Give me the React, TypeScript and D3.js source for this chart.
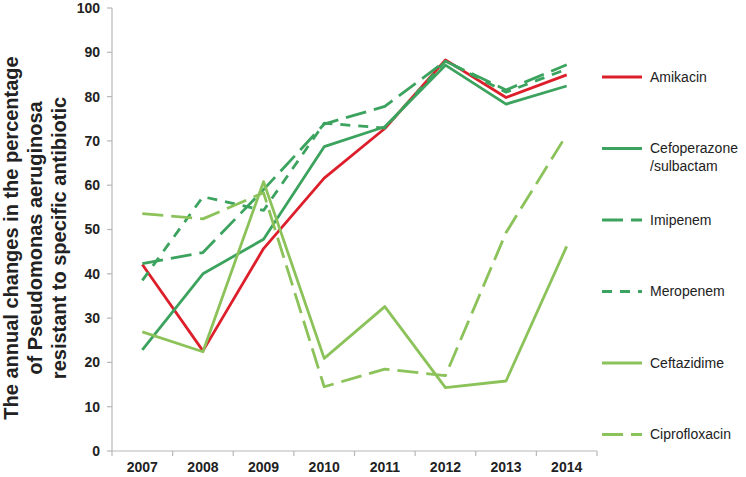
import React from "react";
import * as d3 from "d3";

const years = ["2007", "2008", "2009", "2010", "2011", "2012", "2013", "2014"];
const amikacin = [42.1, 22.6, 45.7, 61.6, 72.8, 88.3, 79.8, 84.9];
const cefoperazone = [22.8, 40.0, 47.8, 68.7, 73.2, 87.1, 78.3, 82.4];
const imipenem = [42.3, 44.8, 59.0, 73.8, 77.8, 88.0, 81.5, 87.2];
const meropenem = [38.5, 57.4, 54.3, 74.0, 72.9, 88.0, 81.0, 86.2];
const ceftazidime = [26.9, 22.4, 60.8, 20.9, 32.6, 14.3, 15.8, 46.2];
const ciprofloxacin = [53.6, 52.4, 58.3, 14.5, 18.5, 17.0, 49.3, 71.4];
const yTicks = [0, 10, 20, 30, 40, 50, 60, 70, 80, 90, 100];

const RED = "#dc1f2a";
const GREEN = "#3ba35e";
const LIGHT = "#8cc25a";

const series = [
  { name: "Amikacin", lines: ["Amikacin"], values: amikacin, color: RED, dash: "" },
  { name: "Cefoperazone/sulbactam", lines: ["Cefoperazone", "/sulbactam"], values: cefoperazone, color: GREEN, dash: "" },
  { name: "Imipenem", lines: ["Imipenem"], values: imipenem, color: GREEN, dash: "21 8" },
  { name: "Meropenem", lines: ["Meropenem"], values: meropenem, color: GREEN, dash: "10 8" },
  { name: "Ceftazidime", lines: ["Ceftazidime"], values: ceftazidime, color: LIGHT, dash: "" },
  { name: "Ciprofloxacin", lines: ["Ciprofloxacin"], values: ciprofloxacin, color: LIGHT, dash: "21 8" },
];

const W = 746;
const H = 477;
const left = 112;
const right = 597;
const top = 8;
const bottom = 451;

export default function App() {
  const x = d3.scaleBand<string>().domain(years).range([left, right]);
  const y = d3.scaleLinear().domain([0, 100]).range([bottom, top]);
  const cx = (yr: string) => (x(yr) as number) + x.bandwidth() / 2;
  const line = d3
    .line<number>()
    .x((_, i) => cx(years[i]))
    .y((v) => y(v));
  const font = "'Liberation Sans', Arial, sans-serif";
  const axisColor = "#b8b8b8";
  const legendY0 = 77;
  const legendStep = 71.5;
  const boundaries = [...years.map((yr) => x(yr) as number), right];

  return (
    <div style={{ position: "absolute", left: 0, top: 0 }}>
      <svg width={W} height={H} style={{ display: "block", background: "#fff" }}>
        {/* Y axis */}
        <line x1={left} x2={left} y1={top} y2={bottom} stroke={axisColor} strokeWidth={1.2} />
        {yTicks.map((t) => (
          <g key={t}>
            <line x1={left - 5} x2={left} y1={y(t)} y2={y(t)} stroke={axisColor} strokeWidth={1.2} />
            <text
              x={left - 12}
              y={y(t)}
              dy="0.35em"
              textAnchor="end"
              fontFamily={font}
              fontWeight="bold"
              fontSize={14}
              fill="#222"
            >
              {t}
            </text>
          </g>
        ))}
        {/* X axis */}
        <line x1={left} x2={right} y1={bottom} y2={bottom} stroke={axisColor} strokeWidth={1.2} />
        {boundaries.map((b, i) => (
          <line key={i} x1={b} x2={b} y1={bottom} y2={bottom + 5} stroke={axisColor} strokeWidth={1.2} />
        ))}
        {years.map((yr) => (
          <text
            key={yr}
            x={cx(yr)}
            y={472}
            textAnchor="middle"
            fontFamily={font}
            fontWeight="bold"
            fontSize={14}
            fill="#222"
          >
            {yr}
          </text>
        ))}
        {/* Axis title */}
        <g transform="translate(0,238) rotate(-90)" fontFamily={font} fontWeight="bold" fontSize={20} fill="#222">
          <text x={0} y={18} textAnchor="middle">The annual changes in the percentage</text>
          <text x={0} y={42} textAnchor="middle">of Pseudomonas aeruginosa</text>
          <text x={0} y={66} textAnchor="middle">resistant to specific antibiotic</text>
        </g>
        {/* Series */}
        {series.map((s) => (
          <path
            key={s.name}
            d={line(s.values) || ""}
            fill="none"
            stroke={s.color}
            strokeWidth={2.8}
            strokeDasharray={s.dash || undefined}
            strokeLinejoin="round"
          />
        ))}
        {/* Legend */}
        {series.map((s, i) => {
          const ly = legendY0 + i * legendStep;
          return (
            <g key={s.name}>
              <line
                x1={602}
                x2={642}
                y1={ly}
                y2={ly}
                stroke={s.color}
                strokeWidth={2.8}
                strokeDasharray={s.dash || undefined}
              />
              {s.lines.map((t, j) => (
                <text
                  key={j}
                  x={650}
                  y={ly + j * 18}
                  dy="0.35em"
                  fontFamily={font}
                  fontSize={14}
                  fill="#222"
                >
                  {t}
                </text>
              ))}
            </g>
          );
        })}
      </svg>
    </div>
  );
}
